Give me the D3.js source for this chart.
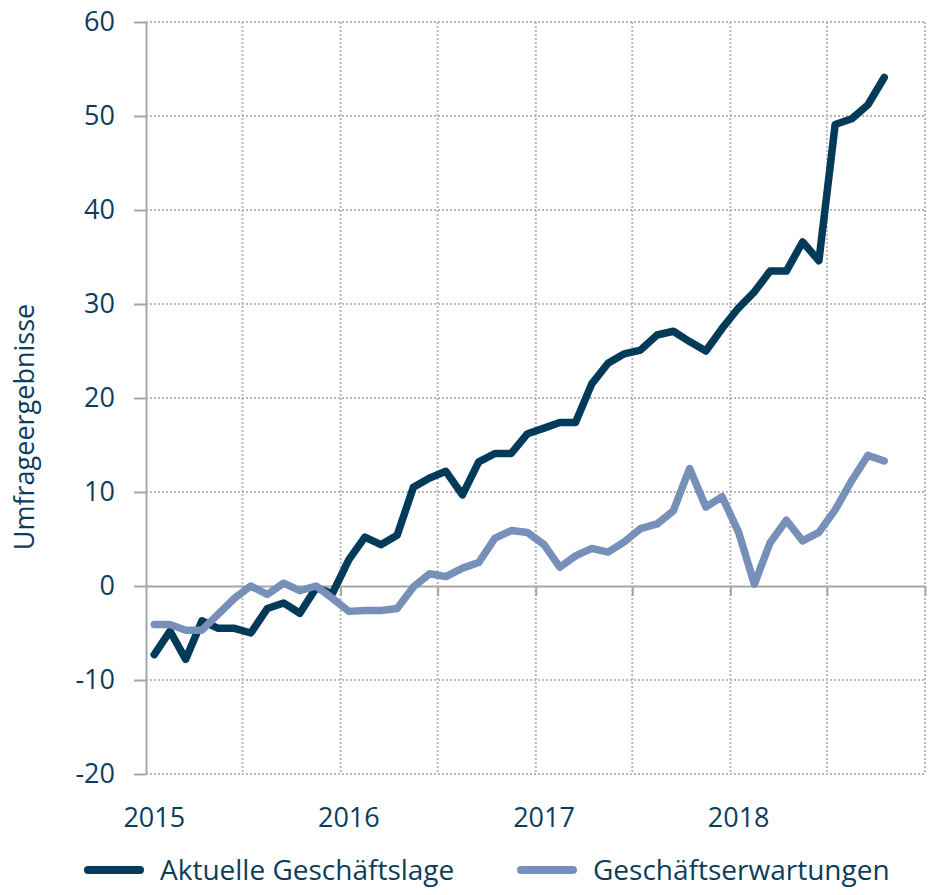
<!DOCTYPE html>
<html lang="de">
<head>
<meta charset="utf-8">
<script src="https://cdn.jsdelivr.net/npm/d3@7"></script>
<style>
    body { margin: 0; background: #fff; }
    svg { display: block; font-family: "Open Sans", sans-serif; }
</style>
</head>
<body>
<div id="chart"></div>
<script>
// Monate: Januar 2015 bis Oktober 2018
const monate = d3.timeMonth.range(new Date(2015, 0, 1), new Date(2018, 10, 1));

// Umfragewerte je Monat
const aktuelleLage = [
    -7.3, -4.8, -7.8, -3.7, -4.5, -4.5, -5.0, -2.4, -1.8, -2.9, -0.2, -0.8,
    2.8, 5.2, 4.4, 5.4, 10.5, 11.5, 12.2, 9.7, 13.2, 14.1, 14.1, 16.2,
    16.8, 17.4, 17.4, 21.5, 23.7, 24.7, 25.1, 26.7, 27.1, 26.0, 25.0, 27.4,
    29.6, 31.3, 33.5, 33.5, 36.6, 34.6, 49.1, 49.7, 51.2, 54.1
];
const erwartungen = [
    -4.1, -4.1, -4.7, -4.7, -3.0, -1.3, 0.0, -0.9, 0.3, -0.5, 0.0, -1.3,
    -2.7, -2.6, -2.6, -2.4, -0.1, 1.3, 1.0, 1.9, 2.5, 5.1, 5.9, 5.7,
    4.4, 2.0, 3.2, 4.0, 3.6, 4.7, 6.1, 6.6, 8.0, 12.5, 8.4, 9.5,
    5.7, 0.2, 4.6, 7.0, 4.8, 5.7, 8.1, 11.2, 13.9, 13.3
];

// Achsenbeschriftungen
const yTicks = [-20, -10, 0, 10, 20, 30, 40, 50, 60];
const jahre = [2015, 2016, 2017, 2018];
const serien = ["Aktuelle Geschäftslage", "Geschäftserwartungen"];

const farbeDunkel = "#023b59";
const farbeHell = "#7790ba";
const textFarbe = "#0d3d5c";
const achsenFarbe = "#a6a6a6";
const gitterFarbe = "#b8b8b8";

const width = 936, height = 895;
const plot = { left: 146, right: 925, top: 22, bottom: 774 };

const svg = d3.select("#chart")
    .append("svg")
    .attr("width", width)
    .attr("height", height);

// Skalen
const x = d3.scaleTime()
    .domain([new Date(2015, 0, 1), new Date(2019, 0, 1)])
    .range([plot.left, plot.right]);

const y = d3.scaleLinear()
    .domain([-20, 60])
    .range([plot.bottom, plot.top]);

// Monatsmitte für Punkte und Jahreslabels
const mitte = d => (x(d) + x(d3.timeMonth.offset(d, 1))) / 2;

// Halbjahres-Gitterlinien
const halbjahre = d3.timeMonth.every(6).range(new Date(2015, 6, 1), new Date(2019, 0, 2));

// Horizontales Gitter (gepunktet)
svg.append("g")
    .selectAll("line")
    .data(yTicks.filter(t => t !== 0))
    .enter()
    .append("line")
    .attr("x1", plot.left)
    .attr("x2", plot.right)
    .attr("y1", d => y(d))
    .attr("y2", d => y(d))
    .attr("stroke", gitterFarbe)
    .attr("stroke-width", 2)
    .attr("stroke-dasharray", "2,2");

// Vertikales Gitter (gepunktet)
svg.append("g")
    .selectAll("line")
    .data(halbjahre)
    .enter()
    .append("line")
    .attr("x1", d => x(d))
    .attr("x2", d => x(d))
    .attr("y1", plot.top)
    .attr("y2", plot.bottom)
    .attr("stroke", gitterFarbe)
    .attr("stroke-width", 2)
    .attr("stroke-dasharray", "2,2");

// Y-Achse (mit normalem Bindestrich als Minus)
const yAxis = svg.append("g")
    .attr("transform", `translate(${plot.left},0)`)
    .call(d3.axisLeft(y).tickValues(yTicks).tickSize(12).tickSizeOuter(0).tickPadding(19)
        .tickFormat(d => String(d)));

yAxis.select(".domain").attr("stroke", achsenFarbe).attr("stroke-width", 2);
yAxis.selectAll(".tick line").attr("stroke", achsenFarbe).attr("stroke-width", 2);
yAxis.selectAll(".tick text")
    .attr("fill", textFarbe)
    .attr("font-size", "27px")
    .attr("font-family", "'Open Sans', sans-serif");

// Nulllinie mit Halbjahresstrichen
const xAxis = svg.append("g")
    .attr("transform", `translate(0,${y(0)})`)
    .call(d3.axisBottom(x).tickValues(halbjahre).tickSize(10).tickSizeOuter(0).tickFormat(""));

xAxis.select(".domain").attr("stroke", achsenFarbe).attr("stroke-width", 2);
xAxis.selectAll(".tick line").attr("stroke", achsenFarbe).attr("stroke-width", 2);

// Jahreslabels unten
svg.append("g")
    .selectAll("text")
    .data(jahre)
    .enter()
    .append("text")
    .attr("x", d => mitte(new Date(d, 0, 1)))
    .attr("y", 827)
    .attr("text-anchor", "middle")
    .attr("font-size", "27px")
    .attr("fill", textFarbe)
    .text(d => d);

// Achsentitel
svg.append("text")
    .attr("transform", "translate(34,427) rotate(-90)")
    .attr("text-anchor", "middle")
    .attr("font-size", "27px")
    .attr("fill", textFarbe)
    .text("Umfrageergebnisse");

// Linien
const line = d3.line()
    .x((d, i) => mitte(monate[i]))
    .y(d => y(d));

[[aktuelleLage, farbeDunkel], [erwartungen, farbeHell]].forEach(([werte, farbe]) => {
    svg.append("path")
        .datum(werte)
        .attr("d", line)
        .attr("fill", "none")
        .attr("stroke", farbe)
        .attr("stroke-width", 7.5)
        .attr("stroke-linejoin", "round")
        .attr("stroke-linecap", "round");
});

// Legende
const legende = [
    { name: serien[0], farbe: farbeDunkel, x: 85 },
    { name: serien[1], farbe: farbeHell, x: 518 }
];

const lg = svg.append("g")
    .selectAll("g")
    .data(legende)
    .enter()
    .append("g")
    .attr("transform", d => `translate(${d.x},870)`);

lg.append("line")
    .attr("x1", 3)
    .attr("x2", 55)
    .attr("stroke", d => d.farbe)
    .attr("stroke-width", 8)
    .attr("stroke-linecap", "round");

lg.append("text")
    .attr("x", 75)
    .attr("y", 10)
    .attr("font-size", "28px")
    .attr("fill", textFarbe)
    .text(d => d.name);
</script>
</body>
</html>
